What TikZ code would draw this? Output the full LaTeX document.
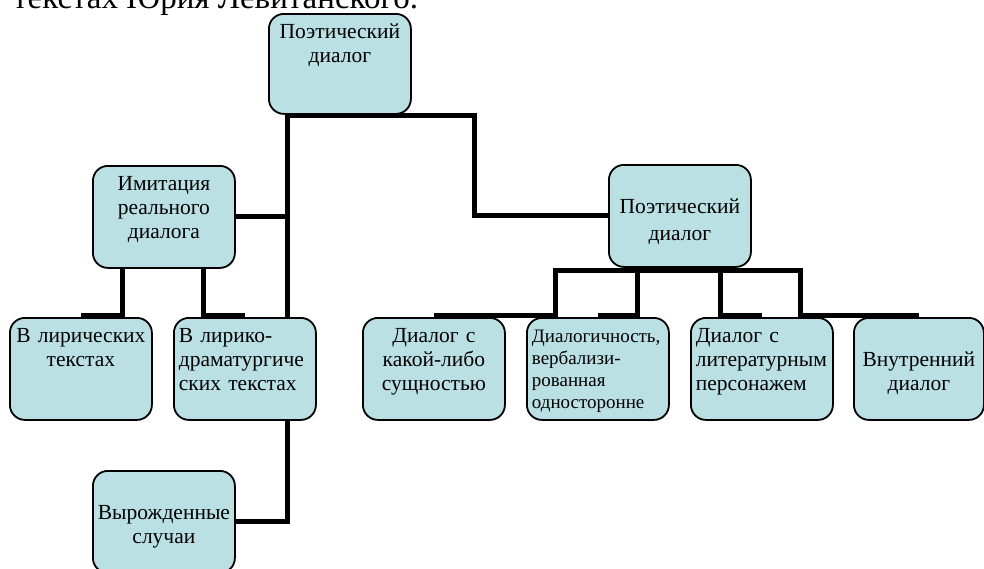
\documentclass[tikz,border=0pt]{standalone}
\usepackage{fontspec}
\setmainfont{Liberation Serif}
\usetikzlibrary{backgrounds}
\hyphenpenalty=10000
\exhyphenpenalty=10000
\definecolor{boxfill}{RGB}{187,224,227}
\tikzset{
  card/.style={draw=black, line width=1.8pt, fill=boxfill, rounded corners=15pt, anchor=north west, inner xsep=5pt, inner ysep=4pt, minimum width=142pt, minimum height=102pt, text width=132pt, align=center, font=\fontsize{21.5}{24}\selectfont},
  box/.style={card, text height=21pt, text depth=73pt},
  lbox/.style={box, align=left},
  cbox/.style={card, text height=45pt, text depth=49pt},
  link/.style={line width=5pt}
}

\begin{document}
\begin{tikzpicture}[x=1pt, y=-1pt]
  \useasboundingbox (0,0) rectangle (984,568);
  \node[anchor=base west, inner sep=0pt, font=\fontsize{33}{36}\selectfont] (title) at (13,8) {текстах Юрия Левитанского.};

  \node[box, minimum height=100pt, text depth=71pt] (top) at (268,13) {Поэтический\\диалог};
  \node[box] (imit) at (92,165) {Имитация\\реального\\диалога};
  \node[cbox, font=\fontsize{21.5}{27}\selectfont] (poet) at (608,164) {Поэтический\\диалог};

  \node[box] (lyr) at (9,317) {В лирических\\текстах};
  \node[lbox] (drama) at (173,317) {В лирико-\\драматургиче\\ских текстах};
  \node[cbox] (degen) at (92,470) {Вырожденные\\случаи};

  \node[box] (essence) at (362,317) {Диалог с\\какой-либо\\сущностью};
  \node[lbox, font=\fontsize{19}{21.7}\selectfont] (oneside) at (526,317) {Диалогичность,\\вербализи-\\рованная\\односторонне};
  \node[lbox] (hero) at (690,317) {Диалог с\\литературным\\персонажем};
  \node[cbox, minimum width=130pt, text width=120pt] (inner) at (853,317) {Внутренний\\диалог};

  % connectors
  \begin{scope}[on background layer]
    \coordinate (trunk) at (287,0);
    \coordinate (bend) at (474,115.5);
    \draw[link] (top.south -| trunk) |- (degen.east);
    \draw[link] (imit.east) -- (imit.east -| trunk);
    \draw[link] ([xshift=-2.5pt]trunk |- bend) -- (bend) |- (poet.west);
    \foreach \dx/\kid in {30/lyr, 111/drama}
      \draw[link] ([xshift=\dx pt]imit.south west) |- ([yshift=2pt]\kid.north);
    \coordinate (bar) at (poet.south west);
    \draw[link] ([shift={(-55.5,2.5)}]bar) -- ([shift={(194.5,2.5)}]bar);
    \foreach \dx/\kid in {-53/essence, 29/oneside, 112/hero, 192/inner}
      \draw[link] ([shift={(\dx,2.5)}]bar) |- ([yshift=2pt]\kid.north);
  \end{scope}
\end{tikzpicture}
\end{document}
